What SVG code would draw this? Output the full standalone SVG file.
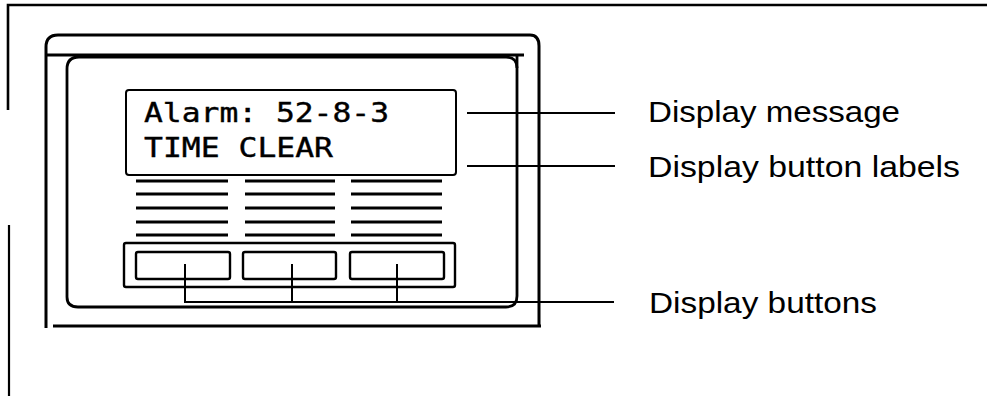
<svg xmlns="http://www.w3.org/2000/svg" width="987" height="396" viewBox="0 0 987 396">
<style>
.ln{fill:none;stroke:#000;stroke-linecap:butt}
.lbl{font-family:"Liberation Sans",Arial,sans-serif;font-size:30px;fill:#000}
.lcd{font-family:"DejaVu Sans Mono","Liberation Mono",monospace;font-size:27px;fill:#000;stroke:#000;stroke-width:0.4}
.stripe{stroke:#000;stroke-width:2.8}
.btn{fill:none;stroke:#000;stroke-width:2.4}
</style>
<rect width="987" height="396" fill="#fff"/>
<g id="frame">
<path class="ln" stroke-width="2.6" d="M987 5 H8 V110"/>
<path class="ln" stroke-width="2.2" d="M9 225 V396"/>
</g>
<g id="phone">
<path class="ln" stroke-width="3" d="M46 328 V47 Q46 35 58 35 H530 Q539 35 539 46 V327"/>
<path class="ln" stroke-width="3" d="M53 326 H541"/>
<path class="ln" stroke-width="3" d="M46 55 H524"/>
<path class="ln" stroke-width="2.8" d="M67 297 V69 Q67 57 79 57 H506 Q517 57 517 68"/>
<path class="ln" stroke-width="2.8" d="M517 55 V296 Q517 307 506 307 H78 Q67 307 67 297"/>
</g>
<g id="display">
<rect x="126" y="90" width="330" height="85" rx="3" class="ln" stroke-width="2"/>
<text class="lcd" x="144" y="122" textLength="245" lengthAdjust="spacingAndGlyphs">Alarm: 52-8-3</text>
<text class="lcd" x="144" y="157" textLength="189" lengthAdjust="spacingAndGlyphs">TIME CLEAR</text>
</g>
<g id="button-labels">
<path class="stripe" d="M136 181 H228 M136 194 H228 M136 208 H228 M136 222 H228 M136 235 H228"/>
<path class="stripe" d="M245 181 H335 M245 194 H335 M245 208 H335 M245 222 H335 M245 235 H335"/>
<path class="stripe" d="M351 181 H442 M351 194 H442 M351 208 H442 M351 222 H442 M351 235 H442"/>
</g>
<g id="buttons">
<rect x="124" y="243" width="331" height="44" rx="2" class="btn"/>
<rect x="136" y="252" width="94" height="27" rx="2" class="btn"/>
<rect x="243" y="252" width="93" height="27" rx="2" class="btn"/>
<rect x="350" y="252" width="94" height="27" rx="2" class="btn"/>
</g>
<g id="connectors">
<path class="ln" stroke-width="2" d="M467 113 H615"/>
<path class="ln" stroke-width="2" d="M467 166 H615"/>
<path class="ln" stroke-width="2" d="M185 264 V302 H614 M292 264 V302 M397 264 V302"/>
</g>
<g id="label-message"><text class="lbl" x="648" y="122" textLength="252" lengthAdjust="spacingAndGlyphs">Display message</text></g>
<g id="label-button-labels"><text class="lbl" x="648" y="177" textLength="312" lengthAdjust="spacingAndGlyphs">Display button labels</text></g>
<g id="label-buttons"><text class="lbl" x="649" y="313" textLength="228" lengthAdjust="spacingAndGlyphs">Display buttons</text></g>
</svg>
